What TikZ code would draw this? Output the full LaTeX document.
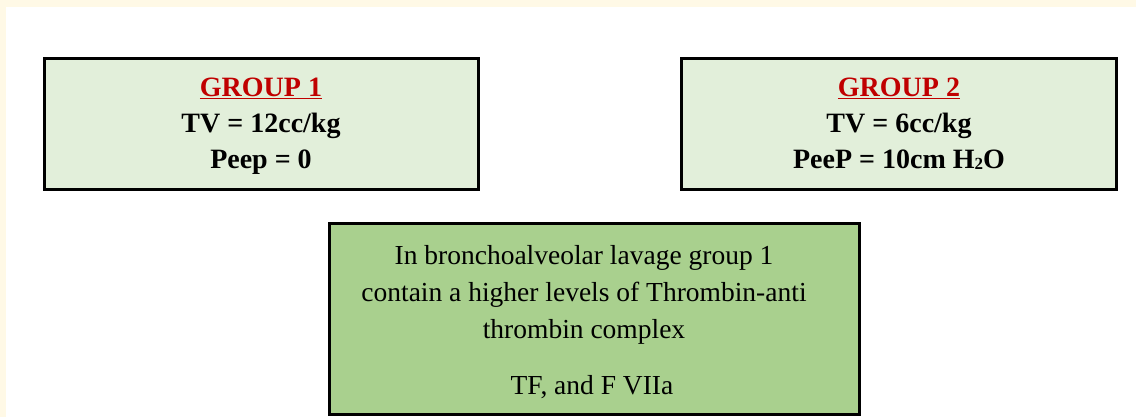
\documentclass[tikz,border=0pt]{standalone}
\usepackage{fontspec}
\setmainfont{Liberation Serif}
\definecolor{pagecream}{HTML}{FFF9E6}
\definecolor{paleleaf}{HTML}{E2EFDA}
\definecolor{leaf}{HTML}{A9D08E}
\definecolor{headred}{HTML}{C00000}
\newcommand{\grouphead}[1]{\textcolor{headred}{\underline{#1}}}
\newcommand{\subtwo}{\smash{\fontsize{17}{17}\selectfont\raisebox{-1pt}{2}}}
\begin{document}
\begin{tikzpicture}[x=1pt,y=-1pt,
  boxline/.style={draw=black, line width=3pt, rectangle, inner sep=0pt},
  groupbox/.style={boxline, fill=paleleaf,
    minimum width=434pt, minimum height=131pt},
  grouptext/.style={align=center, inner sep=0pt,
    font=\fontsize{28}{36}\selectfont\bfseries},
  resultbox/.style={boxline, fill=leaf,
    minimum width=530pt, minimum height=191pt},
  resulttext/.style={align=center, inner sep=0pt,
    font=\fontsize{27.5}{37}\selectfont}]
  % page background with its cream margin
  \fill[pagecream] (0,0) rectangle (1136,417);
  \fill[white] (6,7) rectangle (1136,417);
  \useasboundingbox (0,0) rectangle (1136,417);

  % the two ventilation groups (struts keep the last lines at equal depth)
  \node[groupbox] (g1) at (261,124.5) {};
  \node[grouptext] (g1text) at (261,128.5)
    {\grouphead{GROUP 1}\\ TV = 12cc/kg\\ Peep = 0\strut};
  \node[groupbox, minimum width=435pt] (g2) at (899,124.5) {};
  \node[grouptext] (g2text) at (899,128.5)
    {\grouphead{GROUP 2}\\ TV = 6cc/kg\\ PeeP = 10cm H\subtwo O\strut};

  % finding
  \node[resultbox] (res) at (594,319) {};
  \node[resulttext] (restext) at (584,322)
    {In bronchoalveolar lavage group 1\\
     contain a higher levels of Thrombin-anti\\
     thrombin complex\\[19pt]
     \hspace*{16pt}TF, and F VIIa};
\end{tikzpicture}
\end{document}
